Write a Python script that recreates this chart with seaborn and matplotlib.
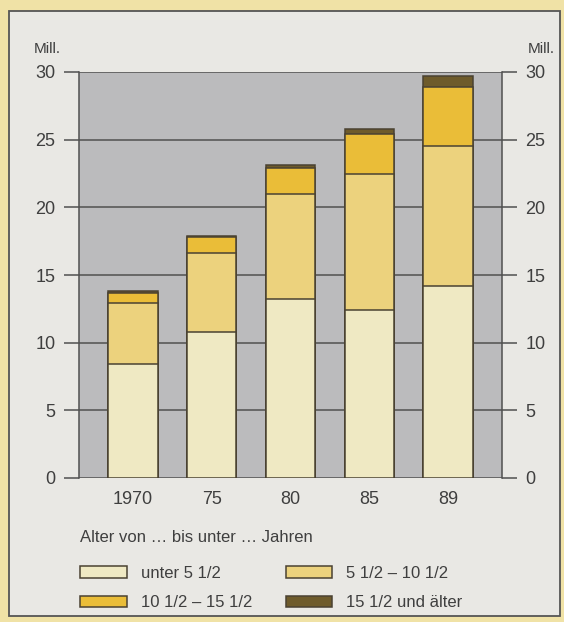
import matplotlib
matplotlib.use("Agg")
import matplotlib.pyplot as plt
from matplotlib.patches import Rectangle, Patch
import numpy as np
import pandas as pd
import seaborn as sns

# Data (Mill.)
years = ["1970", "75", "80", "85", "89"]
unter_5_5 = [8.4, 10.8, 13.2, 12.4, 14.2]
von_5_5_bis_10_5 = [4.5, 5.8, 7.8, 10.1, 10.3]
von_10_5_bis_15_5 = [0.8, 1.2, 1.9, 2.9, 4.4]
ab_15_5 = [0.1, 0.1, 0.2, 0.4, 0.8]

labels = ["unter 5 1/2", "5 1/2 \u2013 10 1/2", "10 1/2 \u2013 15 1/2", "15 1/2 und \u00e4lter"]
colors = ["#efe9c3", "#ecd27d", "#eabd38", "#6e5b2b"]

sns.set_style("white")
plt.rcParams["font.family"] = ["Liberation Sans", "DejaVu Sans"]
text_col = "#3f3f3f"
edge_col = "#4a4232"

fig = plt.figure(figsize=(5.64, 6.22), dpi=100)
fig.patch.set_facecolor("#f0e2a6")

# light panel with border
fig.patches.append(Rectangle((9 / 564, 1 - 616 / 622), 551 / 564, 605 / 622,
                             transform=fig.transFigure, facecolor="#e9e8e4",
                             edgecolor="#555555", linewidth=1.3, zorder=-5))

ax = fig.add_axes([79 / 564, 1 - 478 / 622, 423 / 564, 406 / 622])
ax.set_facecolor("#bbbbbd")

df = pd.DataFrame({"Jahr": years})
parts = [unter_5_5, von_5_5_bis_10_5, von_10_5_bis_15_5, ab_15_5]
cum = np.cumsum(np.array(parts), axis=0)

# stacked bars: draw cumulative totals from top to bottom
for i in range(3, -1, -1):
    df["wert"] = cum[i]
    sns.barplot(data=df, x="Jahr", y="wert", order=years, color=colors[i],
                width=0.63, edgecolor=edge_col, linewidth=1.1,
                saturation=1, ax=ax, zorder=3)

ax.set_xlim(-0.68, 4.68)
ax.set_ylim(0, 30)
ax.set_yticks(range(0, 31, 5))
ax.set_xlabel("")
ax.set_ylabel("")

for y in range(0, 31, 5):
    ax.axhline(y, color="#505050", linewidth=1.1, zorder=1)

for s in ["left", "right"]:
    ax.spines[s].set_visible(True)
    ax.spines[s].set_color("#505050")
    ax.spines[s].set_linewidth(1.1)
ax.spines["top"].set_visible(False)
ax.spines["bottom"].set_visible(False)

ax.tick_params(axis="y", left=True, right=True, labelleft=True, labelright=True,
               direction="out", length=11, width=1.1, color="#505050",
               labelsize=13, labelcolor=text_col, pad=6)
ax.tick_params(axis="x", bottom=False, labelsize=13, labelcolor=text_col, pad=6)

fig.text(47 / 564, 1 - 49 / 622, "Mill.", fontsize=11, color=text_col,
         ha="center", va="center")
fig.text(541 / 564, 1 - 49 / 622, "Mill.", fontsize=11, color=text_col,
         ha="center", va="center")

fig.text(80 / 564, 1 - 537 / 622, "Alter von \u2026 bis unter \u2026 Jahren",
         fontsize=12, color=text_col, ha="left", va="center")

handles = [Patch(facecolor=colors[k], edgecolor=edge_col, linewidth=1.1) for k in [0, 2, 1, 3]]
leg_labels = [labels[k] for k in [0, 2, 1, 3]]
fig.legend(handles, leg_labels, ncols=2, loc="upper left",
           bbox_to_anchor=(80 / 564, 1 - 566 / 622), frameon=False,
           fontsize=12, labelcolor=text_col, handlelength=2.8, handleheight=0.7,
           handletextpad=0.85, columnspacing=2.0, labelspacing=0.85,
           borderpad=0, borderaxespad=0)

fig.savefig("out.png", dpi=100, facecolor=fig.get_facecolor())
